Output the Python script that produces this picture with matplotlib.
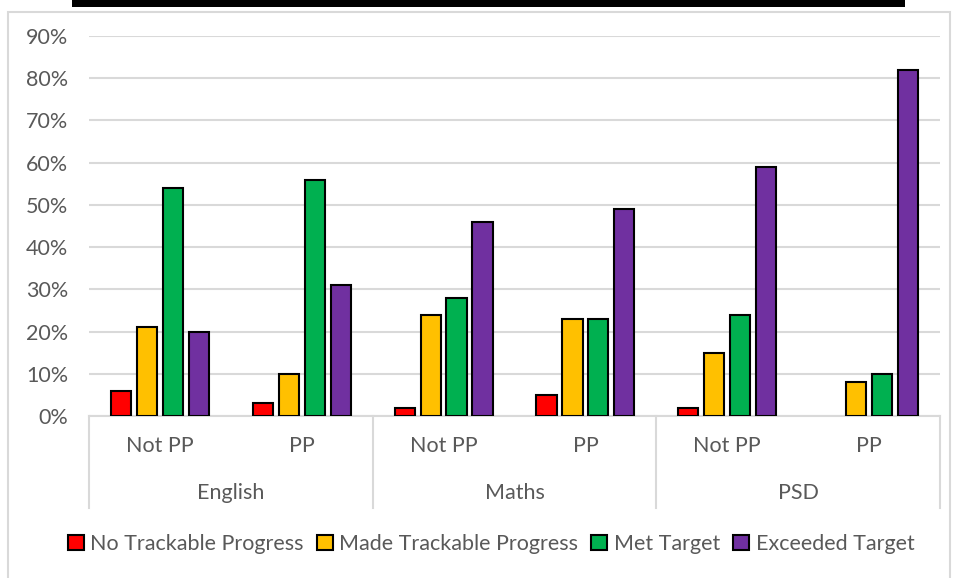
import numpy as np
import matplotlib
matplotlib.use('Agg')
import matplotlib.pyplot as plt
from matplotlib.patches import Rectangle

subjects = ['English', 'Maths', 'PSD']
groups = ['Not PP', 'PP', 'Not PP', 'PP', 'Not PP', 'PP']
series = ['No Trackable Progress', 'Made Trackable Progress', 'Met Target', 'Exceeded Target']
colors = ['#ff0000', '#ffc000', '#00b050', '#7030a0']

no_progress = [6, 3, 2, 5, 2, 0]
made_progress = [21, 10, 24, 23, 15, 8]
met_target = [54, 56, 28, 23, 24, 10]
exceeded = [20, 31, 46, 49, 59, 82]
values = [no_progress, made_progress, met_target, exceeded]

plt.rcParams['font.family'] = ['Lato', 'DejaVu Sans']
txt = '#595959'
grid = '#d9d9d9'
fs = 15.5

W, H = 956, 578
fig = plt.figure(figsize=(W / 100, H / 100), dpi=100)

# chart border and cut-off title band at the top
fig.patches.append(Rectangle((8 / W, -0.05), 942 / W, (H - 12) / H + 0.05, transform=fig.transFigure,
                             fill=False, edgecolor=grid, linewidth=1.5))
fig.patches.append(Rectangle((72 / W, (H - 7) / H), 833 / W, 7 / H, transform=fig.transFigure,
                             facecolor='black', edgecolor='none'))

ax = fig.add_axes([89 / W, 162 / H, 851 / W, 380 / H])
x = np.arange(len(groups))
step = 0.183
width = 0.142
for i, (name, vals, c) in enumerate(zip(series, values, colors)):
    lw = [1.5 if v > 0 else 0 for v in vals]
    ax.bar(x + (i - 1.5) * step, np.array(vals) / 100, width, color=c,
           edgecolor='black', linewidth=lw, label=name, zorder=3)

ax.set_xlim(-0.5, len(groups) - 0.5)
ax.set_ylim(0, 0.9)
ax.set_yticks(np.arange(0, 0.91, 0.1))
ax.set_yticklabels([f'{int(round(v * 100))}%' for v in np.arange(0, 0.91, 0.1)])
ax.yaxis.grid(True, color=grid, linewidth=1.5, zorder=0)
ax.tick_params(axis='y', length=0, labelsize=fs, labelcolor=txt, pad=15)
ax.set_xticks([])
for s in ['top', 'right', 'left']:
    ax.spines[s].set_visible(False)
ax.spines['bottom'].set_color(grid)
ax.spines['bottom'].set_linewidth(1.5)

# two-level category axis
tr = ax.get_xaxis_transform()
for b in [-0.5, 1.5, 3.5, 5.5]:
    ax.plot([b, b], [0, -0.242], transform=tr, color=grid, linewidth=1.5, clip_on=False)
for xi, g in zip(x, groups):
    ax.text(xi, -0.079, g, transform=tr, ha='center', va='center', fontsize=fs, color=txt)
for k, s in enumerate(subjects):
    ax.text(2 * k + 0.5, -0.203, s, transform=tr, ha='center', va='center', fontsize=fs, color=txt)

leg = ax.legend(loc='center', bbox_to_anchor=(491 / W, 34 / H), bbox_transform=fig.transFigure,
                ncol=4, frameon=False, fontsize=fs, handlelength=0.75, handleheight=0.75,
                handletextpad=0.3, columnspacing=0.6)
for p in leg.get_patches():
    p.set_linewidth(1.5)
for t in leg.get_texts():
    t.set_color(txt)

fig.savefig('out.png', dpi=100)
